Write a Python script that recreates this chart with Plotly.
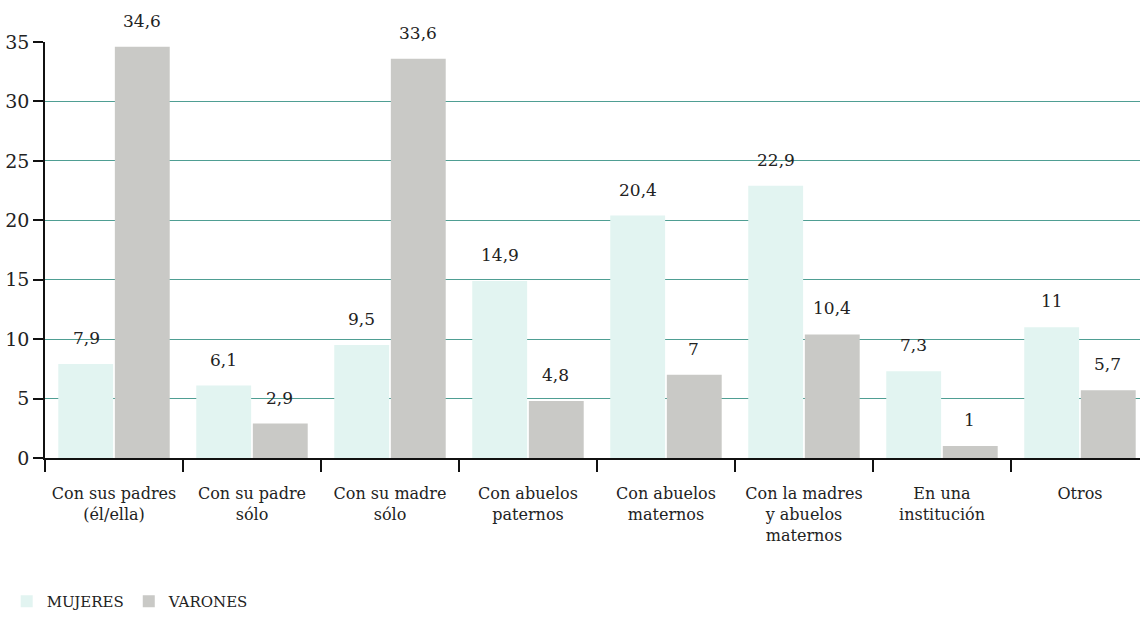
import plotly.graph_objects as go

categorias = [
    "Con sus padres<br>(él/ella)",
    "Con su padre<br>sólo",
    "Con su madre<br>sólo",
    "Con abuelos<br>paternos",
    "Con abuelos<br>maternos",
    "Con la madres<br>y abuelos<br>maternos",
    "En una<br>institución",
    "Otros",
]
mujeres = [7.9, 6.1, 9.5, 14.9, 20.4, 22.9, 7.3, 11]
varones = [34.6, 2.9, 33.6, 4.8, 7, 10.4, 1, 5.7]
y_ticks = [0, 5, 10, 15, 20, 25, 30, 35]

FONT = "DejaVu Serif"


def etiqueta(v):
    return f"{v:g}".replace(".", ",")


fig = go.Figure()
fig.add_trace(go.Bar(name="MUJERES", x=categorias, y=mujeres,
                     marker=dict(color="#e2f4f1", line=dict(width=0))))
fig.add_trace(go.Bar(name="VARONES", x=categorias, y=varones,
                     marker=dict(color="#c9c9c6", line=dict(width=0))))

annotations = []
for i, (m, v) in enumerate(zip(mujeres, varones)):
    for val, dx in ((m, -28), (v, 28)):
        annotations.append(dict(
            x=i, y=val, xref="x", yref="y", text=etiqueta(val),
            showarrow=False, xshift=dx, yshift=14, yanchor="bottom",
            font=dict(family=FONT, size=17, color="#222"),
        ))

fig.update_layout(
    width=1140, height=618,
    margin=dict(l=45, r=0, t=42, b=154),
    paper_bgcolor="white", plot_bgcolor="white",
    barmode="group", bargap=0.18, bargroupgap=0.03,
    font=dict(family=FONT, size=17, color="#222"),
    annotations=annotations,
    legend=dict(orientation="h", x=-0.035, xanchor="left", y=-0.345, yanchor="middle",
                font=dict(family=FONT, size=15, color="#222"),
                itemwidth=30, tracegroupgap=0),
    xaxis=dict(
        range=[-0.5, 7.435], tickson="boundaries", ticks="outside", ticklen=12,
        tickcolor="#111", tickwidth=1.5, showline=True, linecolor="#111", linewidth=1.5,
        showgrid=False, ticklabelstandoff=20, tickangle=0,
        tickfont=dict(family=FONT, size=16, color="#222"),
    ),
    yaxis=dict(
        range=[0, 35], tickvals=y_ticks, ticks="outside", ticklen=10,
        tickcolor="#111", tickwidth=1.5, showline=True, linecolor="#111", linewidth=1.5,
        showgrid=True, gridcolor="#4f9e93", gridwidth=1, zeroline=False,
        tickfont=dict(family=FONT, size=19, color="#222"),
    ),
)

fig.write_html("out.html")
